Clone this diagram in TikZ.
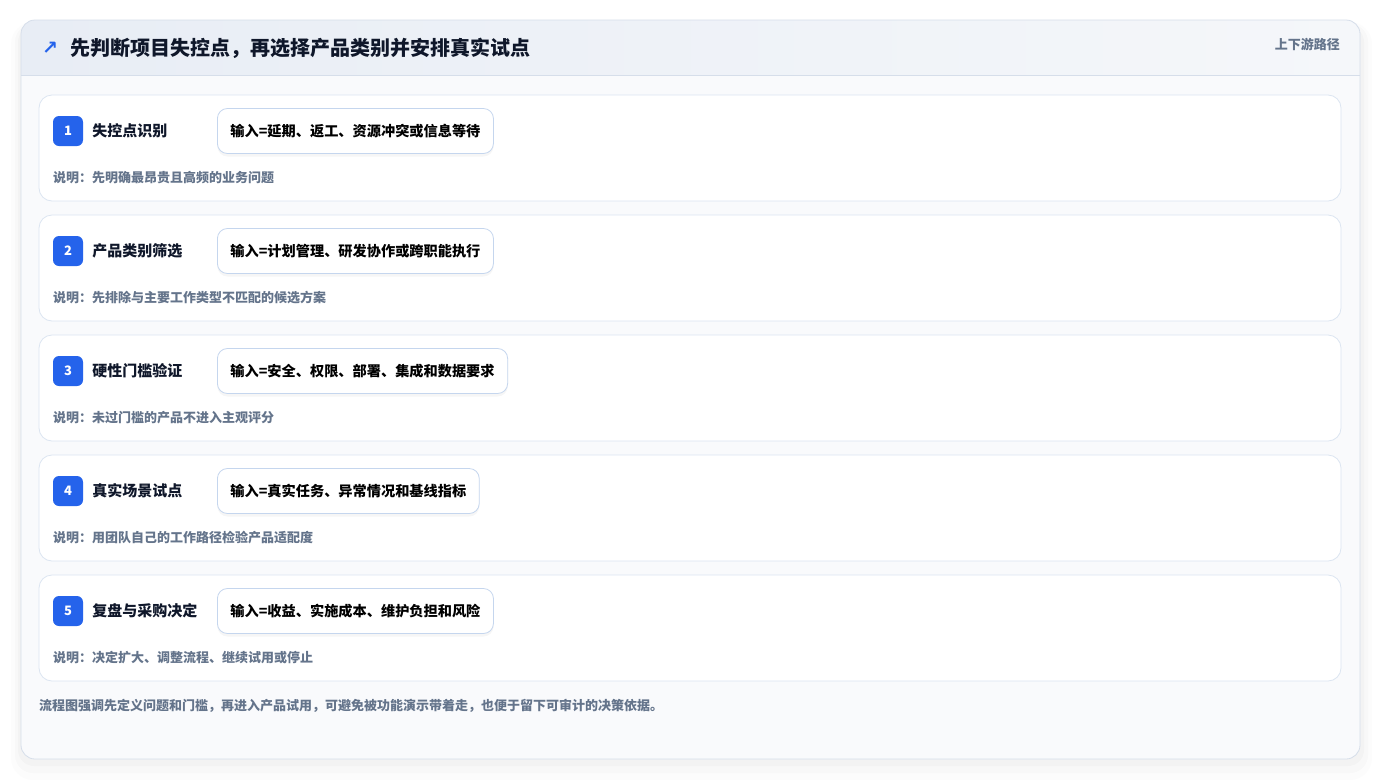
\documentclass[tikz,border=0pt]{standalone}
\usepackage{fontspec}
\setmainfont{Noto Sans CJK SC}
\newfontfamily\symfont{DejaVu Sans}
\usepackage{tikz}
\usetikzlibrary{positioning, fit}
\definecolor{cardline}{HTML}{D6DEEA}
\definecolor{cardbody}{HTML}{F9FAFC}
\definecolor{headleft}{HTML}{E8EDF5}
\definecolor{headright}{HTML}{F5F7FA}
\definecolor{stepline}{HTML}{DCE5F1}
\definecolor{inputline}{HTML}{C5D6EE}
\definecolor{badgeblue}{HTML}{2563EB}
\definecolor{titleink}{HTML}{0F172A}
\definecolor{notegray}{HTML}{64748B}
\tikzset{
  %---------------------------------------%
  %  Card and header                      %
  %---------------------------------------%
  % Outer card
  box_card/.style={
    rectangle,
    rounded corners=14pt,
    draw=cardline,
    line width=0.8pt,
    inner sep=0pt
  },
  % Header title
  head_title/.style={
    anchor=west,
    inner sep=0pt,
    text=titleink,
    font=\fontsize{20}{24}\selectfont\bfseries
  },
  %---------------------------------------%
  %  Step boxes                           %
  %---------------------------------------%
  % Box for one step
  box_step/.style={
    rectangle,
    rounded corners=13pt,
    draw=stepline,
    fill=white,
    line width=0.8pt,
    minimum width=1302pt,
    minimum height=106pt,
    inner sep=0pt
  },
  % Number badge
  badge/.style={
    rectangle,
    rounded corners=6pt,
    fill=badgeblue,
    text=white,
    minimum size=30pt,
    inner sep=0pt,
    font=\fontsize{13}{15}\selectfont\bfseries
  },
  % Step title
  step_title/.style={
    anchor=west,
    inner sep=0pt,
    text=titleink,
    font=\fontsize{15}{18}\selectfont\bfseries
  },
  % Box for the inputs
  box_input/.style={
    rectangle,
    rounded corners=10pt,
    draw=inputline,
    fill=white,
    line width=0.8pt,
    anchor=west,
    minimum height=45pt,
    inner xsep=13pt,
    text=black,
    font=\fontsize{14.2}{17}\selectfont\bfseries,
    preaction={fill=black, opacity=0.035, rounded corners=10pt,
      transform canvas={yshift=-3pt}}
  },
  % Grey notes
  note/.style={
    anchor=west,
    inner sep=0pt,
    text=notegray,
    font=\fontsize{13}{16}\selectfont\bfseries
  },
}

\begin{document}
\begin{tikzpicture}[x=1pt, y=-1pt]
    \useasboundingbox (0,0) rectangle (1381,780);
    \fill[white] (0,0) rectangle (1381,780);

    %------------------%
    %  Outer card      %
    %------------------%
    % Shadow
    \fill[black, opacity=0.012, rounded corners=22pt] (11,22) rectangle (1372,780);
    \fill[black, opacity=0.015, rounded corners=18pt] (15,24) rectangle (1368,773);
    \fill[black, opacity=0.02, rounded corners=16pt] (18,26) rectangle (1364,766);
    % Card body
    \fill[cardbody, rounded corners=14pt] (21,20) rectangle (1360,759);
    % Header band
    \begin{scope}
      \clip[rounded corners=14pt] (21,20) rectangle (1360,759);
      \shade[left color=headleft, right color=headright] (21,20) rectangle (1360,75);
    \end{scope}
    \draw[cardline, line width=0.8pt] (21,75) -- (1360,75);
    \node (card) [box_card, fit={(21,20) (1360,759)}] {};

    % Header texts
    \node (icon) [anchor=center, text=badgeblue, font=\symfont\bfseries\fontsize{19}{22}\selectfont] at (50,48) {↗};
    \node (title) [head_title] at (70,48) {先判断项目失控点，再选择产品类别并安排真实试点};
    \node (route) [note, anchor=east] at (1340,44) {上下游路径};

    %-----------------------%
    %  Step 1               %
    %-----------------------%
    \node (step1) [box_step] at (690,148) {};
    \node (badge1) [badge] at (68,131) {1};
    \node (title1) [step_title, right=9pt of badge1] {失控点识别};
    \node (input1) [box_input] at (217,131) {输入=延期、返工、资源冲突或信息等待};
    \node (note1) [note] at (53,178) {说明：先明确最昂贵且高频的业务问题};

    %-----------------------%
    %  Step 2               %
    %-----------------------%
    \node (step2) [box_step] at (690,268) {};
    \node (badge2) [badge] at (68,251) {2};
    \node (title2) [step_title, right=9pt of badge2] {产品类别筛选};
    \node (input2) [box_input] at (217,251) {输入=计划管理、研发协作或跨职能执行};
    \node (note2) [note] at (53,298) {说明：先排除与主要工作类型不匹配的候选方案};

    %-----------------------%
    %  Step 3               %
    %-----------------------%
    \node (step3) [box_step] at (690,388) {};
    \node (badge3) [badge] at (68,371) {3};
    \node (title3) [step_title, right=9pt of badge3] {硬性门槛验证};
    \node (input3) [box_input] at (217,371) {输入=安全、权限、部署、集成和数据要求};
    \node (note3) [note] at (53,418) {说明：未过门槛的产品不进入主观评分};

    %-----------------------%
    %  Step 4               %
    %-----------------------%
    \node (step4) [box_step] at (690,508) {};
    \node (badge4) [badge] at (68,491) {4};
    \node (title4) [step_title, right=9pt of badge4] {真实场景试点};
    \node (input4) [box_input] at (217,491) {输入=真实任务、异常情况和基线指标};
    \node (note4) [note] at (53,538) {说明：用团队自己的工作路径检验产品适配度};

    %-----------------------%
    %  Step 5               %
    %-----------------------%
    \node (step5) [box_step] at (690,628) {};
    \node (badge5) [badge] at (68,611) {5};
    \node (title5) [step_title, right=9pt of badge5] {复盘与采购决定};
    \node (input5) [box_input] at (217,611) {输入=收益、实施成本、维护负担和风险};
    \node (note5) [note] at (53,658) {说明：决定扩大、调整流程、继续试用或停止};

    %----------%
    %  Footer  %
    %----------%
    \node (footer) [note] at (39,706) {流程图强调先定义问题和门槛，再进入产品试用，可避免被功能演示带着走，也便于留下可审计的决策依据。};
\end{tikzpicture}
\end{document}
